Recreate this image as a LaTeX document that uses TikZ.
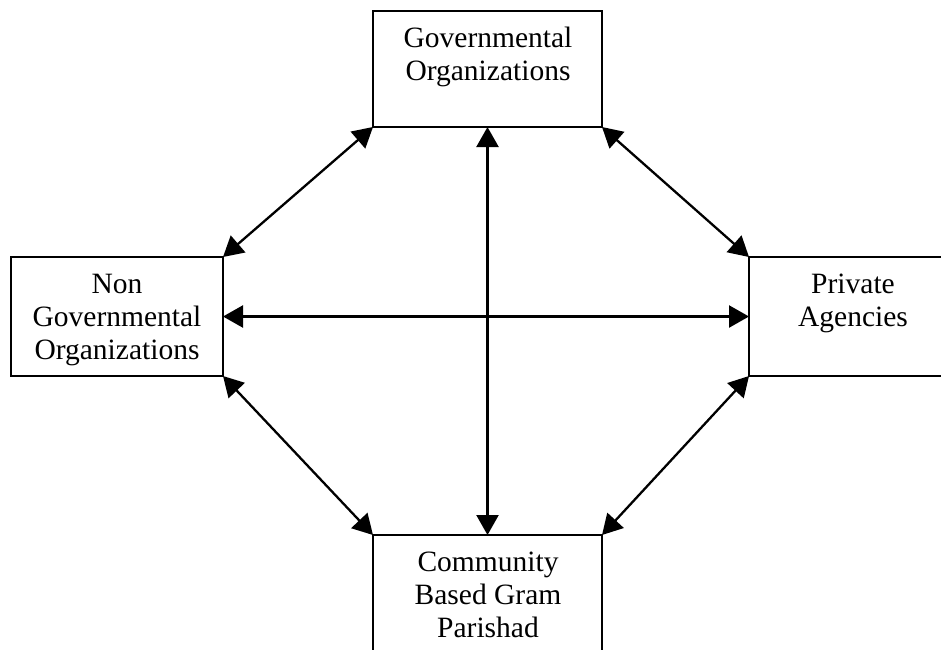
\documentclass[tikz,border=0pt]{standalone}
\usepackage{fontspec}
\setmainfont{Liberation Serif}
\usetikzlibrary{arrows.meta}
\begin{document}
\begin{tikzpicture}[x=1pt,y=-1pt,
  box/.style={draw, line width=2.4pt, rectangle, inner sep=0pt, outer sep=0pt},
  lbl/.style={align=center, anchor=north, inner sep=0pt, font=\fontsize{29.5}{33}\selectfont},
  link/.style={line width=2.3pt, {Triangle[length=20pt,width=22pt]}-{Triangle[length=20pt,width=22pt]}}]
\useasboundingbox (0,0) rectangle (941,649);
\clip (0,0) rectangle (941,649);
% boxes
\node[box, minimum width=229pt, minimum height=116pt] (gov) at (487.5,69) {};
\node[box, minimum width=212pt, minimum height=119pt] (ngo) at (117,316.5) {};
\node[box, minimum width=211pt, minimum height=119pt] (pvt) at (854.5,316.5) {};
\node[box, minimum width=229pt, minimum height=125pt] (cbg) at (487.5,597.5) {};
% labels
\node[lbl] (govt) at (488,27) {Governmental\\Organizations};
\node[lbl] (ngot) at (117,274) {Non\\Governmental\\Organizations};
\node[lbl] (pvtt) at (853,274) {Private\\Agencies};
\node[lbl] (cbgt) at (488,552) {Community\\Based Gram\\Parishad};
% connectors
\draw[link] (gov.south west) -- (ngo.north east);
\draw[link] (gov.south east) -- (pvt.north west);
\draw[link] (ngo.south east) -- (cbg.north west);
\draw[link] (pvt.south west) -- (cbg.north east);
\draw[link] (gov.south) -- (cbg.north);
\draw[link] (ngo.east) -- (pvt.west);
\end{tikzpicture}
\end{document}
